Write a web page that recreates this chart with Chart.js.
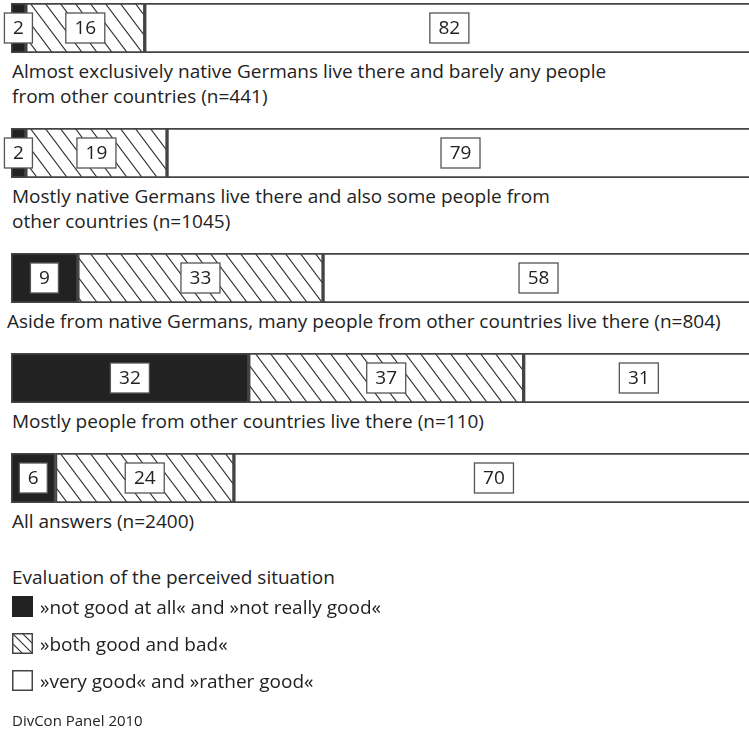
<!DOCTYPE html>
<html>
<head>
<meta charset="utf-8">
<script src="https://cdn.jsdelivr.net/npm/chart.js@4"></script>
<style>
  body { margin: 0; overflow: hidden; background: #fff; color: #222; font-family: "Open Sans", sans-serif; }
  #rows { width: 760px; padding-top: 3px; }
  .row canvas { display: block; }
  .lbl { font-size: 19px; line-height: 25px; margin: 6px 0 19px 12px; white-space: nowrap; }
  .lbl.wide { margin-left: 7px; }
  #legend { margin-top: 31px; margin-left: 12px; font-size: 19px; }
  #legend .title { line-height: 25px; }
  #items { margin-top: -2px; }
  #legend .item { height: 37px; display: flex; align-items: center; }
  #legend .item canvas { margin-right: 7px; }
  #source { font-size: 15px; line-height: 20px; margin-top: 11px; }
</style>
</head>
<body>
<div id="rows"></div>
<div id="legend">
  <div class="title">Evaluation of the perceived situation</div>
  <div id="items"></div>
  <div id="source">DivCon Panel 2010</div>
</div>
<script>
// categories, one line per array entry
const categories = [
  ['Almost exclusively native Germans live there and barely any people', 'from other countries (n=441)'],
  ['Mostly native Germans live there and also some people from', 'other countries (n=1045)'],
  ['Aside from native Germans, many people from other countries live there (n=804)'],
  ['Mostly people from other countries live there (n=110)'],
  ['All answers (n=2400)']
];
const seriesNames = ['»not good at all« and »not really good«', '»both good and bad«', '»very good« and »rather good«'];
const notGood = [2, 2, 9, 32, 6];
const mixed = [16, 19, 33, 37, 24];
const good = [82, 79, 58, 31, 70];

const INK = '#222';
const EDGE = '#444';

// diagonal hatch used for the middle segment
function makeHatch(ctx) {
  const w = 15, h = 20;
  const c = document.createElement('canvas');
  c.width = w; c.height = h;
  const g = c.getContext('2d');
  g.fillStyle = '#fff';
  g.fillRect(0, 0, w, h);
  g.strokeStyle = '#333';
  g.lineWidth = 1.1;
  g.beginPath();
  for (const off of [-w, 0, w]) {
    g.moveTo(off - 2, -2 * h / w);
    g.lineTo(off + w + 2, h + 2 * h / w);
  }
  g.stroke();
  return ctx.createPattern(c, 'repeat');
}

// white boxes with the numbers in the middle of each segment
const valueBoxes = {
  id: 'valueBoxes',
  afterDatasetsDraw(chart) {
    const ctx = chart.ctx;
    ctx.save();
    ctx.font = '19px "Open Sans", sans-serif';
    ctx.textAlign = 'center';
    ctx.textBaseline = 'middle';
    chart.data.datasets.forEach((ds, i) => {
      chart.getDatasetMeta(i).data.forEach((el, j) => {
        const txt = String(ds.data[j]);
        const cx = (el.base + el.x) / 2;
        const cy = el.y;
        const bw = Math.round(ctx.measureText(txt).width + 17);
        const bh = 30;
        ctx.fillStyle = '#fff';
        ctx.fillRect(cx - bw / 2, cy - bh / 2, bw, bh);
        ctx.strokeStyle = '#555';
        ctx.lineWidth = 1.3;
        ctx.strokeRect(cx - bw / 2, cy - bh / 2, bw, bh);
        ctx.fillStyle = INK;
        ctx.fillText(txt, cx, cy + 1);
      });
    });
    ctx.restore();
  }
};

const rows = document.getElementById('rows');
categories.forEach((cat, i) => {
  const row = document.createElement('div');
  row.className = 'row';
  const cv = document.createElement('canvas');
  cv.width = 754; cv.height = 50;
  row.appendChild(cv);
  const lbl = document.createElement('div');
  lbl.className = cat[0].length > 70 ? 'lbl wide' : 'lbl';
  lbl.innerHTML = cat.join('<br>');
  row.appendChild(lbl);
  rows.appendChild(row);

  const hatch = makeHatch(cv.getContext('2d'));
  new Chart(cv, {
    type: 'bar',
    data: {
      labels: [cat.join(' ')],
      datasets: [
        { label: seriesNames[0], data: [notGood[i]], backgroundColor: INK },
        { label: seriesNames[1], data: [mixed[i]], backgroundColor: hatch },
        { label: seriesNames[2], data: [good[i]], backgroundColor: '#fff' }
      ]
    },
    options: {
      indexAxis: 'y',
      responsive: false,
      animation: false,
      layout: { padding: { left: 11, right: 0, top: 0, bottom: 0 } },
      datasets: {
        bar: { barPercentage: 1, categoryPercentage: 1, borderColor: EDGE, borderWidth: 2, borderSkipped: false }
      },
      scales: {
        x: { stacked: true, min: 0, max: 100, display: false },
        y: { stacked: true, display: false }
      },
      plugins: { legend: { display: false }, tooltip: { enabled: false } }
    },
    plugins: [valueBoxes]
  });
});

// legend swatches
const items = document.getElementById('items');
seriesNames.forEach((name, i) => {
  const it = document.createElement('div');
  it.className = 'item';
  const sw = document.createElement('canvas');
  sw.width = 21; sw.height = 21;
  const g = sw.getContext('2d');
  if (i === 0) {
    g.fillStyle = INK;
    g.fillRect(0, 0, 21, 21);
  } else {
    g.fillStyle = '#fff';
    g.fillRect(0, 0, 21, 21);
    if (i === 1) {
      g.strokeStyle = '#333';
      g.lineWidth = 1.1;
      g.beginPath();
      for (const off of [-10, 0, 10]) {
        g.moveTo(off, 0);
        g.lineTo(off + 21, 21);
      }
      g.stroke();
    }
    g.strokeStyle = EDGE;
    g.lineWidth = 1.5;
    g.strokeRect(0.75, 0.75, 19.5, 19.5);
  }
  it.appendChild(sw);
  const t = document.createElement('span');
  t.textContent = name;
  it.appendChild(t);
  items.appendChild(it);
});
</script>
</body>
</html>
